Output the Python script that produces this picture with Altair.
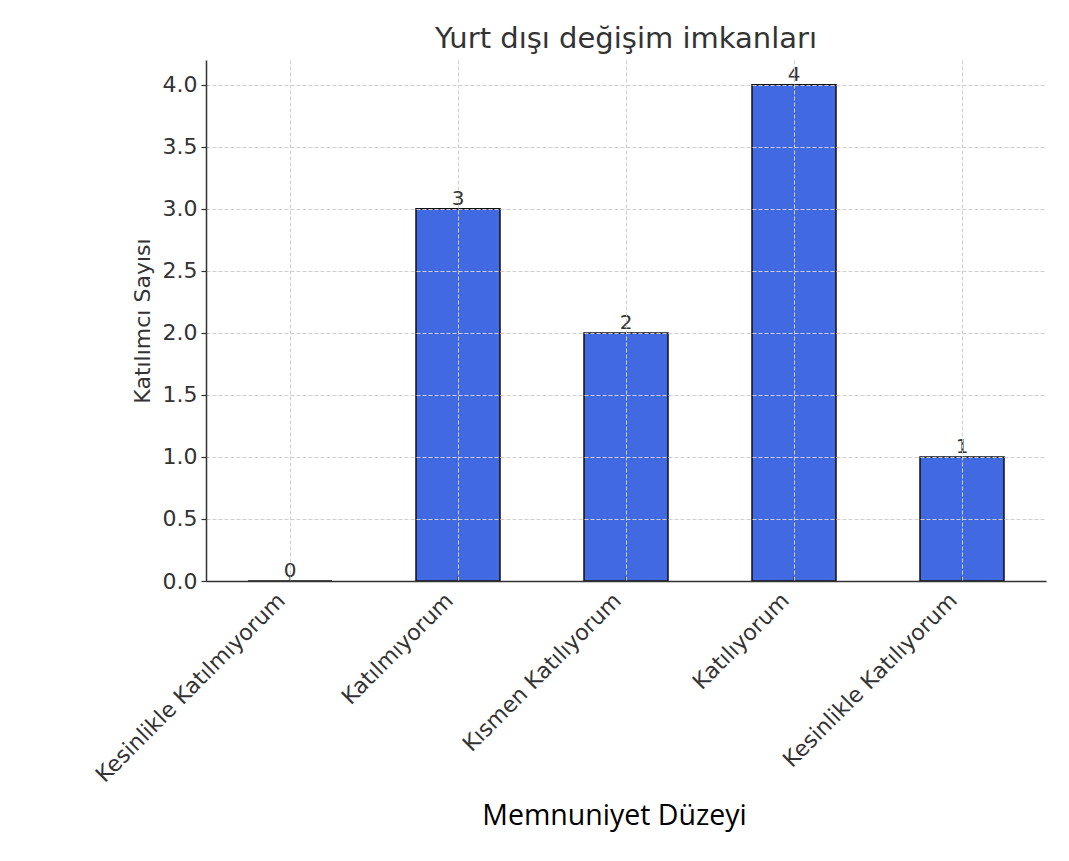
import altair as alt
import pandas as pd

categories = ["Kesinlikle Katılmıyorum", "Katılmıyorum", "Kısmen Katılıyorum",
              "Katılıyorum", "Kesinlikle Katılıyorum"]
counts = [0, 3, 2, 4, 1]
y_ticks = [0.0, 0.5, 1.0, 1.5, 2.0, 2.5, 3.0, 3.5, 4.0]

df = pd.DataFrame({"cat": categories, "n": counts})

FONT = "DejaVu Sans"
GRID = dict(grid=True, gridColor="#cfcfcf", gridDash=[4, 2], gridWidth=1, zindex=1)

x_enc = alt.X(
    "cat:N", sort=categories,
    scale=alt.Scale(paddingInner=0.5, paddingOuter=0.25),
    axis=alt.Axis(
        title="Memnuniyet Düzeyi", titleFont="Open Sans", titleFontSize=28.5,
        titleFontWeight="normal", titleColor="#000000",
        titleX=408, titleY=243, titleAlign="center", titleBaseline="alphabetic",
        labelAngle=315, labelAlign="right", labelBaseline="bottom",
        labelPadding=24, labelFontSize=22, labelFont=FONT, labelColor="#333333",
        ticks=False, bandPosition=0.5, labelOverlap=False, labelLimit=0,
        domainColor="#333333", domainWidth=1.5, **GRID,
    ),
)
y_enc = alt.Y(
    "n:Q", scale=alt.Scale(domain=[0, 4.2], nice=False),
    axis=alt.Axis(
        title="Katılımcı Sayısı", titleFont=FONT, titleFontSize=22,
        titleFontWeight="normal", titleColor="#333333", titlePadding=8,
        values=y_ticks, format=".1f", labelFontSize=22, labelFont=FONT,
        labelColor="#333333", labelPadding=4, tickSize=5, tickColor="#333333",
        tickWidth=1.2, domainColor="#333333", domainWidth=1.5, **GRID,
    ),
)

base = alt.Chart(df).encode(x=x_enc)

bars = base.mark_bar(color="#4169E1", stroke="#111111", strokeWidth=1.5).encode(y=y_enc)

labels = base.mark_text(font=FONT, fontSize=20, color="#333333",
                        baseline="alphabetic", dy=-4).encode(
    y=alt.Y("n:Q"), text=alt.Text("n:Q"))

xticks = base.mark_rule(color="#333333", strokeWidth=1.2, y2Offset=-5).encode(
    y=alt.datum(0), y2=alt.datum(0))

chart = alt.layer(bars, labels, xticks).properties(
    width=840, height=521,
    title=alt.TitleParams("Yurt dışı değişim imkanları", font=FONT, fontSize=29,
                          fontWeight="normal", color="#333333", anchor="middle",
                          frame="group", offset=6),
    autosize=alt.AutoSizeParams(type="none"),
    padding={"left": 198, "top": 52, "right": 14, "bottom": 260},
    background="white",
).configure_view(stroke=None)

chart.save("out.html", embed_options={"renderer": "svg", "actions": False})
